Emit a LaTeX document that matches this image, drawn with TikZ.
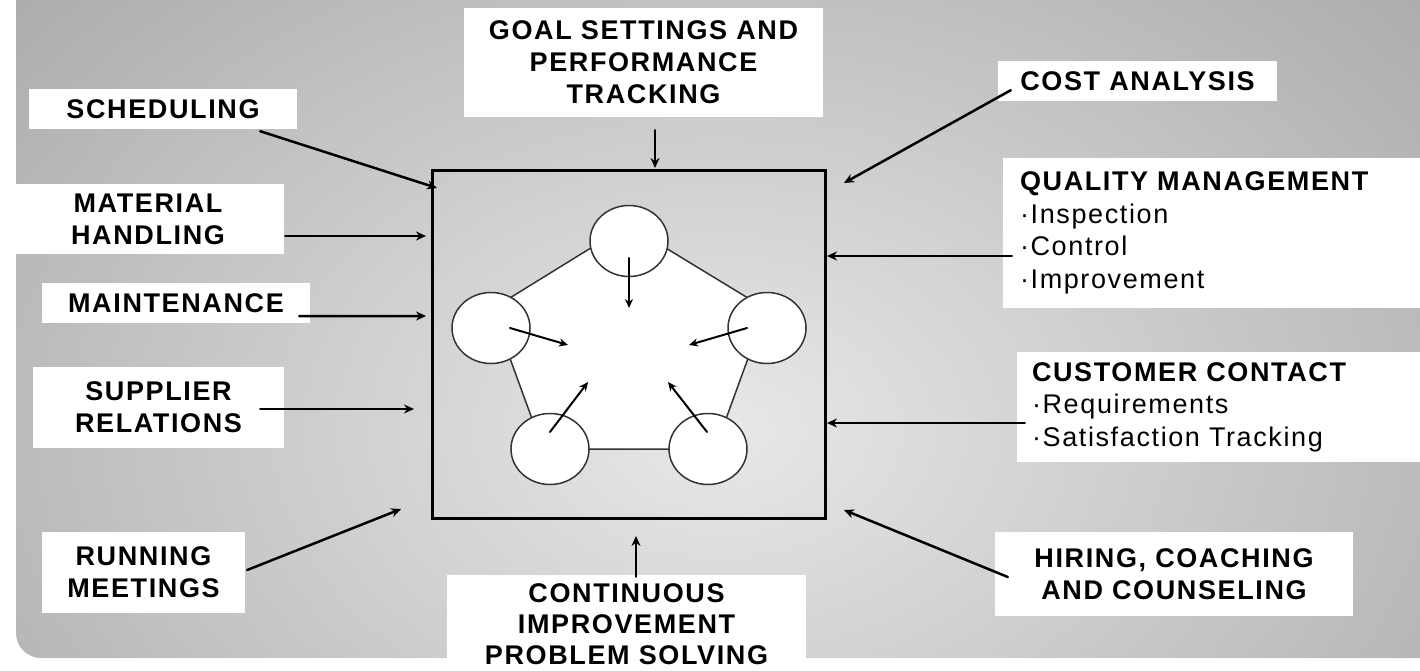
\documentclass[tikz,border=0pt]{standalone}
\usepackage{fontspec}
\setmainfont{Liberation Sans}
\newfontfamily\labelfont{Liberation Sans}[LetterSpace=6]
\usepackage{tikz}
\usetikzlibrary{arrows.meta, calc, shapes.geometric}
\definecolor{bgLight}{gray}{0.91}
\definecolor{bgDark}{gray}{0.66}
\definecolor{ringGray}{gray}{0.2}

\begin{document}
\begin{tikzpicture}[x=1pt, y=-1pt, style={line cap=round},
  tag/.style={fill=white, inner sep=0pt, align=center, font=\labelfont\bfseries\fontsize{27}{32}\selectfont},
  listtag/.style={fill=white, inner ysep=0pt, align=left, font=\labelfont\fontsize{27}{32.5}\selectfont},
  feed/.style={line width=2.5pt, ->, >={Stealth[length=10pt, width=9pt]}},
  pull/.style={line width=2pt, ->, >={Stealth[length=9pt, width=8pt]}},
  ring/.style={ellipse, draw=ringGray, line width=1.5pt, fill=white, minimum width=78pt, minimum height=71pt, inner sep=0pt}]
  \useasboundingbox (0,0) rectangle (1420,671);
  % backdrop
  \begin{scope}
    \clip[rounded corners=25] (16,-40) rectangle (1460,658);
    \shade[inner color=bgLight, outer color=bgDark] (720,430) ellipse [x radius=1000, y radius=700];
  \end{scope}
  % labels round the box
  \node[tag, minimum width=359, minimum height=109] (goal) at (643.5,62.5) {GOAL SETTINGS AND\\PERFORMANCE\\TRACKING};
  \node[tag, minimum width=268, minimum height=40] (sched) at (163,109) {SCHEDULING};
  \node[tag, minimum width=279, minimum height=40] (cost) at (1137.5,81) {COST ANALYSIS};
  \node[tag, minimum width=272, minimum height=70] (mat) at (148,219) {MATERIAL\\HANDLING};
  \node[tag, minimum width=268, minimum height=40] (maint) at (176,303) {MAINTENANCE};
  \node[tag, minimum width=251, minimum height=81] (supp) at (158.5,407.5) {SUPPLIER\\RELATIONS};
  \node[tag, minimum width=203, minimum height=81] (run) at (143.5,572.5) {RUNNING\\MEETINGS};
  \node[tag, minimum width=359, minimum height=98, font=\labelfont\bfseries\fontsize{27}{31}\selectfont] (cont) at (626.5,624) {CONTINUOUS\\IMPROVEMENT\\PROBLEM SOLVING};
  \node[tag, minimum width=358, minimum height=84] (hire) at (1174,574) {HIRING, COACHING\\AND COUNSELING};
  \node[listtag, text width=403, inner xsep=17, minimum height=150] (qual) at (1221.5,233) {{\bfseries QUALITY MANAGEMENT}\\·Inspection\\·Control\\·Improvement};
  \node[listtag, text width=393, inner xsep=15, minimum height=110] (cust) at (1228.5,407) {{\bfseries CUSTOMER CONTACT}\\·Requirements\\·Satisfaction Tracking};
  % the box
  \node[draw, line width=3pt, minimum width=393, minimum height=347, inner sep=0pt, outer sep=0pt] (frame) at (628.5,344.5) {};
  \draw[draw=ringGray, line width=1.5pt, fill=white] (628,225) -- (766,309) -- (715,449) -- (543,449) -- (492,309) -- cycle;
  \node[ring] (c1) at (629,241) {};
  \node[ring] (c2) at (491,328) {};
  \node[ring] (c3) at (767,328) {};
  \node[ring] (c4) at (550,449) {};
  \node[ring] (c5) at (708,449) {};
  \draw[pull] ($(c1)+(0,17)$) -- ($(c1)+(0,67)$);
  \draw[pull] ($(c2)+(19,0)$) -- ($(c2)+(77,17)$);
  \draw[pull] ($(c3)+(-20,0)$) -- ($(c3)+(-78,17)$);
  \draw[pull] ($(c4)+(0,-17)$) -- ($(c4)+(38,-67)$);
  \draw[pull] ($(c5)+(-1,-17)$) -- ($(c5)+(-40,-67)$);
  % arrows into the box
  \draw[feed] ($(sched.south east)+(-37,2)$) -- ($(frame.north west)+(5,17)$);
  \draw[feed] ($(mat.east)+(1,17)$) -- ($(frame.north west)+(-6,65)$);
  \draw[feed] ($(maint.south east)+(-11,-7)$) -- ($(frame.north west)+(-6,145)$);
  \draw[feed] ($(supp.east)+(-24,1.5)$) -- ($(frame.north west)+(-18,238)$);
  \draw[feed] ($(run.east)+(2,-2.5)$) -- ($(frame.south west)+(-31,-9)$);
  \draw[feed] ($(cont.north)+(9.5,2)$) -- ($(frame.south west)+(204,18)$);
  \draw[feed] ($(goal.south)+(11.5,13)$) -- ($(frame.north west)+(223,-3)$);
  \draw[feed] ($(cost.south west)+(13,-11)$) -- ($(frame.north east)+(19,12)$);
  \draw[feed] ($(qual.west)+(9,23)$) -- ($(frame.north east)+(2,85)$);
  \draw[feed] ($(cust.west)+(8,16)$) -- ($(frame.north east)+(2,252)$);
  \draw[feed] ($(hire.west)+(13,3)$) -- ($(frame.south east)+(19,-8)$);
\end{tikzpicture}
\end{document}
